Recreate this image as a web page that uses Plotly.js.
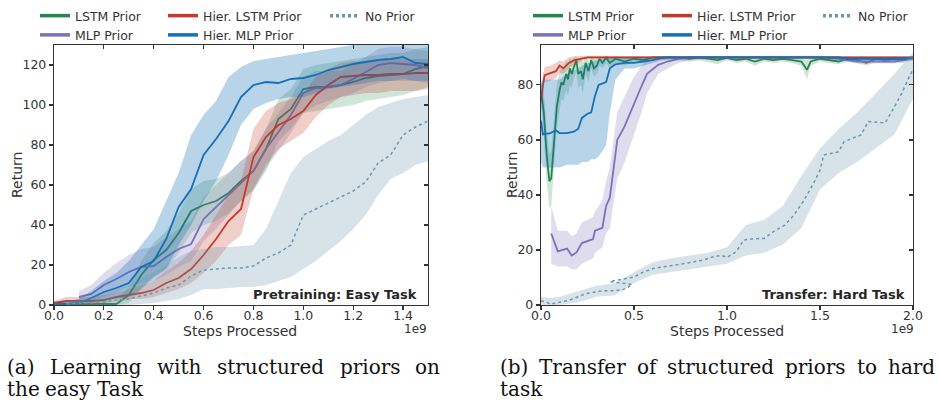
<!DOCTYPE html>
<html>
<head>
<meta charset="utf-8">
<script src="https://cdn.plot.ly/plotly-3.0.1.min.js"></script>
<style>html,body{margin:0;padding:0;background:#fff;}#chart{width:938px;height:404px;}</style>
</head>
<body>
<div id="chart"></div>
<script>
// ---------- Left panel: Pretraining (easy task), x in units of 1e9 steps ----------
const easySteps = [0,0.05,0.1,0.15,0.2,0.25,0.3,0.35,0.4,0.45,0.5,0.55,0.6,0.65,0.7,0.75,0.8,0.85,0.9,0.95,1.0,1.05,1.1,1.15,1.2,1.25,1.3,1.35,1.4,1.45,1.5];
const easyLstm    = [0.5,0.5,0.5,0.5,0.5,0.5,5,15,22.5,27.5,36,47,50,52,56,62,67,78,93,98,108,109,109,110,111.5,113.5,114.5,115,115.5,118,119.5];
const easyLstmLo  = [0,0,0,0,0,0,1,8,14,18,26,36,40,42,46,52,57,67,82,88,96,97,98,99,100,102,103,104,105,107,109];
const easyLstmHi  = [2,2,2,2,2,2,9,22,31,37,46,58,62,63,66,72,77,88,103,108,118,120,121,122,123,124,125,126,126,128,129];
const easyHmlp    = [0,0.5,1,3.5,6.5,8.5,11,19,22,33,49,58,75,83,92,104,110,111.5,111,113,113.5,115,117.5,119,120.5,121.5,122.5,123,124,121,120.5];
const easyHmlpLo  = [0,0,0,1,2,3,4,8,14,18,30,40,52,62,75,90,98,101,103,104,104,106,108,109,110,111,112,112,113,112,112];
const easyHmlpHi  = [1,2,3,7,12,16,22,30,38,52,66,85,95,102,114,119,122,123,124,125,126,127,128,129,130,130,130,130,130,130,130];
const easyHlstm   = [1,2,2,2,2.5,4,5,6,7.5,11,13.5,18,25,33,42,48,74,84,90,93,97,105,110,114,114.5,115,115,115.5,115.5,116,116];
const easyHlstmLo = [0,0,0,0,1,2,3,3,4,6,8,11,16,22,30,35,58,70,78,82,86,94,100,104,105,106,106,107,107,107,108];
const easyHlstmHi = [2,4,4,4,5,6,8,10,12,17,21,27,35,45,55,62,88,97,101,103,106,114,118,121,122,122,122,123,123,123,123];
const easyMlpSteps = [0.1,0.15,0.2,0.25,0.3,0.35,0.4,0.45,0.5,0.55,0.6,0.65,0.7,0.75,0.8,0.85,0.9,0.95,1.0,1.05,1.1,1.15,1.2,1.25,1.3,1.35,1.4,1.45,1.5];
const easyMlp     = [4,5.5,10,13,16.5,19,19.5,24,28,30.5,43,49,55,61,67,78,86.5,95,106,108.5,109,110,113,116.7,120,121,120.5,120,118.5];
const easyMlpLo   = [1,2,4,6,9,11,12,15,19,22,32,38,45,52,58,68,77,86,96,100,102,104,106,109,111,112,112,112,111];
const easyMlpHi   = [7,10,16,21,25,28,29,34,38,42,54,60,66,72,77,88,96,104,114,117,117,117,120,124,128,129,129,128,127];
const easyNoSteps = [0.05,0.1,0.15,0.2,0.25,0.3,0.35,0.4,0.45,0.5,0.55,0.6,0.65,0.7,0.75,0.8,0.85,0.9,0.95,1.0,1.05,1.1,1.15,1.2,1.25,1.3,1.35,1.4,1.45,1.5];
const easyNo      = [0.5,1,1,1.5,2.5,3,4.5,6,8.5,10,14.5,17.5,18,18.5,18.5,19.5,23.5,26,30,45,48,51,54,57,61.5,71,75,85,89,92];
const easyNoLo    = [0,0,0,0,0,0,0.5,1,2,3,5,8,8,8.5,9,9,10,12,14,18,22,27,32,38,45,55,63,66,70,72];
const easyNoHi    = [2,3,4,6,8,10,13,16,20,24,27,28,29,29,29.5,30,38,52,66,74,78,82,85,90,95,99,101,103,104,105];

// ---------- Right panel: Transfer (hard task) ----------
const hardLstmSteps = [0,0.015,0.03,0.045,0.055,0.065,0.075,0.085,0.1,0.11,0.12,0.135,0.145,0.155,0.165,0.18,0.19,0.2,0.215,0.225,0.24,0.255,0.27,0.285,0.3,0.315,0.33,0.35,0.37,0.4,0.45,0.5,0.55,0.6,0.7,0.8,0.85,0.95,1.0,1.05,1.1,1.15,1.2,1.25,1.3,1.35,1.4,1.43,1.45,1.5,1.55,1.6,1.65,1.7,1.75,1.8,1.85,1.9,1.95];
const hardLstm   = [78,70,55,45,46,55,63,72,78,81,80,84,82,86,84,87.5,89,84,85,82,88,85,89,86,87,89.5,88,90,88,89.5,88.5,89.5,89,90,90,89.5,90,89,89.8,89,89.5,88.5,89.5,89,89.5,89,88.5,85.5,88.5,89.5,89,88.5,89.5,89,88,89.5,89,89.5,89];
const hardLstmLo = [74,62,45,35,36,45,55,64,71,75,74,78,76,80,79,83,85,79,80,77,84,81,86,83,84,87,86,88,86,88,87,88.5,88,89,89,88.5,89,87.5,89,88,88.5,87,88.5,88,88.5,88,87,82,87,88.5,88,87.5,88.5,88,87,88.5,88,88.5,88];
const hardLstmHi = [82,78,64,55,56,65,71,80,85,87,86,89,88,90,89,90,90,89,89.5,88,90,89,90,89.5,89.5,90,90,90.3,90,90.3,90,90.3,90,90.5,90.5,90.3,90.5,90,90.5,90,90.3,90,90.3,90,90.3,90,90,89,90,90.3,90,90,90.3,90,89.5,90.3,90,90.3,90];
const hardMlpSteps = [0.055,0.09,0.14,0.165,0.19,0.22,0.28,0.29,0.33,0.35,0.37,0.38,0.39,0.41,0.45,0.48,0.5,0.54,0.57,0.63,0.68,0.74,0.8,1.0,1.5,1.6,1.7,1.8,1.9,2.0];
const hardMlp    = [26,19.5,20.5,18,19,22.5,24,27,28,36,39,44,49,60,65,70,73,79.5,84,87.3,88.5,89.5,90,90,90,89.5,88.5,88.5,88.5,89.5];
const hardMlpLo  = [15,14,14,13,13,15,17,19,21,26,28,32,37,46,52,58,62,70,77,84,86,88,89,89.3,89.3,88.8,87.8,87.8,87.8,88.8];
const hardMlpHi  = [36,27,27,25,26,30,32,34,38,45,50,55,60,70,76,80,83,87,89,90,90.5,90.5,90.5,90.6,90.6,90.2,89.2,89.2,89.2,90.2];
const hardHlstmSteps = [0,0.01,0.02,0.05,0.08,0.1,0.12,0.15,0.18,0.25,0.5,1.0,1.5,2.0];
const hardHlstm   = [74,80,83.5,84.2,85,87,86,88,89,90,90,90,90,90];
const hardHlstmLo = [70,77,81,81.5,82.5,84.5,84,86,87.5,89.3,89.5,89.5,89.5,89.5];
const hardHlstmHi = [78,84,86.5,87,88,89,88.5,90,90.5,90.6,90.5,90.5,90.5,90.5];
const hardHmlpSteps = [0,0.01,0.05,0.08,0.1,0.14,0.175,0.2,0.22,0.25,0.27,0.29,0.31,0.35,0.37,0.4,0.45,0.5,0.55,0.6,0.65,0.7,1.0,1.6,1.65,1.8,1.95,2.0];
const hardHmlp    = [67,62,62.5,63.5,62.5,62.5,63,64,68,69.5,70,76,80,81,86,87.5,88,88,88.5,89,89.8,90,90,90,89.5,89.5,89.5,90];
const hardHmlpLo  = [52,50,50,50,50,51,51,51,52,52,53,53,54,58,70,82,86,86,87,88,89,89.5,89.5,89.5,89,89,89,89.5];
const hardHmlpHi  = [80,82,82,82,82,84,85,86,87,88,88,89,89,89.5,90,90,90,90,90,90,90.3,90.4,90.4,90.4,90,90,90,90.4];
const hardNoSteps = [0,0.023,0.05,0.1,0.155,0.2,0.245,0.3,0.335,0.4,0.44,0.47,0.49,0.37,0.5,0.55,0.605,0.65,0.695,0.785,0.875,0.93,0.97,1.0,1.05,1.09,1.145,1.2,1.25,1.31,1.36,1.41,1.47,1.5,1.52,1.6,1.63,1.72,1.76,1.85,1.9,1.94,1.98,2.0];
const hardNo      = [1.5,1.2,0.3,1,1.8,3,4.2,4.8,5.2,5.2,5.6,6.5,7.5,8.5,10.2,12,13.3,13.8,14.2,15.2,16.4,17.6,18,17.3,19.4,23.6,24.1,24.2,26.7,29,32.7,37.6,44.8,49,54.5,55.7,59.4,61.8,66.7,66.2,72,77,83,85.5];
const hardNoBandSteps = [0,0.05,0.1,0.2,0.3,0.4,0.5,0.6,0.7,0.8,0.9,1.0,1.1,1.2,1.3,1.4,1.5,1.6,1.7,1.8,1.9,2.0];
const hardNoLo    = [0,0,0,1,3,3.5,8,11,12,13,14,15,18,19,22,28,42,48,52,57,62,75];
const hardNoHi    = [3,2.5,3,5,7,8,12,15.5,17,18,19,21,29,31,36,47,57,64,70,77,84,92];

// ---------- labels / ticks ----------
const seriesNames = ['LSTM Prior','MLP Prior','Hier. LSTM Prior','Hier. MLP Prior','No Prior'];
const easyXTicks = [0,0.2,0.4,0.6,0.8,1.0,1.2,1.4];
const easyXTickText = ['0.0','0.2','0.4','0.6','0.8','1.0','1.2','1.4'];
const easyYTicks = [0,20,40,60,80,100,120];
const hardXTicks = [0,0.5,1.0,1.5,2.0];
const hardXTickText = ['0.0','0.5','1.0','1.5','2.0'];
const hardYTicks = [0,20,40,60,80];
const xTitle = 'Steps Processed';
const yTitle = 'Return';
const panelTags = ['Pretraining: Easy Task','Transfer: Hard Task'];
const captionA = [['(a)','Learning','with','structured','priors','on'],['the','easy','Task']];
const captionB = [['(b)','Transfer','of','structured','priors','to','hard'],['task']];

// ---------- styling ----------
const colors = ['#23874a','#7a73b8','#c23b2a','#1570b7','#6c97ae'];
const bandAlpha = [0.22,0.25,0.25,0.3,0.27];
const W = 938, H = 404;
const FONT = 'DejaVu Sans';
const px = v => v / W;
const py = v => 1 - v / H;

function rgba(hex, a) {
  const n = parseInt(hex.slice(1), 16);
  return 'rgba(' + (n >> 16 & 255) + ',' + (n >> 8 & 255) + ',' + (n & 255) + ',' + a + ')';
}
function band(x, lo, hi, i, xa, ya) {
  return {x: x.concat(x.slice().reverse()), y: hi.concat(lo.slice().reverse()),
    xaxis: xa, yaxis: ya, type: 'scatter', mode: 'lines', fill: 'toself',
    fillcolor: rgba(colors[i], bandAlpha[i]), line: {width: 0, color: 'rgba(0,0,0,0)'},
    hoverinfo: 'skip', showlegend: false};
}
function line(x, y, i, xa, ya) {
  return {x: x, y: y, xaxis: xa, yaxis: ya, type: 'scatter', mode: 'lines', name: seriesNames[i],
    line: i === 4 ? {color: colors[i], width: 1.5, dash: '3px,3px'} : {color: colors[i], width: 1.8},
    showlegend: false};
}

const traces = [];
const easy = [
  [easySteps, easyLstm, easyLstmLo, easyLstmHi, easySteps],
  [easyMlpSteps, easyMlp, easyMlpLo, easyMlpHi, easyMlpSteps],
  [easySteps, easyHlstm, easyHlstmLo, easyHlstmHi, easySteps],
  [easySteps, easyHmlp, easyHmlpLo, easyHmlpHi, easySteps],
  [easyNoSteps, easyNo, easyNoLo, easyNoHi, easyNoSteps]
];
const hard = [
  [hardLstmSteps, hardLstm, hardLstmLo, hardLstmHi, hardLstmSteps],
  [hardMlpSteps, hardMlp, hardMlpLo, hardMlpHi, hardMlpSteps],
  [hardHlstmSteps, hardHlstm, hardHlstmLo, hardHlstmHi, hardHlstmSteps],
  [hardHmlpSteps, hardHmlp, hardHmlpLo, hardHmlpHi, hardHmlpSteps],
  [hardNoSteps, hardNo, hardNoLo, hardNoHi, hardNoBandSteps]
];
easy.forEach((s, i) => { traces.push(band(s[4], s[2], s[3], i, 'x', 'y')); traces.push(line(s[0], s[1], i, 'x', 'y')); });
hard.forEach((s, i) => { traces.push(band(s[4], s[2], s[3], i, 'x2', 'y2')); traces.push(line(s[0], s[1], i, 'x2', 'y2')); });

// legend-only entries (three columns per panel, like the original)
const legendCols = [[0,1],[2,3],[4]];
const legendIds = [['legend','legend2','legend3'],['legend4','legend5','legend6']];
[0,1].forEach(p => {
  legendCols.forEach((col, c) => {
    col.forEach(i => {
      traces.push({x: [null], y: [null], xaxis: p ? 'x2' : 'x', yaxis: p ? 'y2' : 'y', type: 'scatter', mode: 'lines',
        name: seriesNames[i], legend: legendIds[p][c], hoverinfo: 'skip',
        line: i === 4 ? {color: colors[i], width: 3.5, dash: '3px,3px'} : {color: colors[i], width: 3.5}});
    });
  });
});
// carriers for the inside-ticks mirror axes
traces.push({x: [null], y: [null], xaxis: 'x3', yaxis: 'y3', type: 'scatter', mode: 'lines', showlegend: false, hoverinfo: 'skip'});
traces.push({x: [null], y: [null], xaxis: 'x4', yaxis: 'y4', type: 'scatter', mode: 'lines', showlegend: false, hoverinfo: 'skip'});

const tickFont = {family: FONT, size: 12.5, color: '#333'};
const titleFont = {family: FONT, size: 14, color: '#333'};
const yDomain = [1 - 305 / H, 1 - 45 / H];
function baseAxis(extra) {
  return Object.assign({showline: true, linecolor: '#333', linewidth: 1.2, mirror: true, ticks: 'outside',
    ticklen: 4, tickwidth: 1.2, tickcolor: '#333', showgrid: false, zeroline: false, tickfont: tickFont,
    automargin: false, fixedrange: true}, extra);
}
function mirrorAxis(extra) {
  return Object.assign({showline: false, ticks: 'inside', ticklen: 4, tickwidth: 1.2, tickcolor: '#333',
    showticklabels: false, showgrid: false, zeroline: false, automargin: false, fixedrange: true}, extra);
}

function legendAt(textX, textY) {
  return {x: px(textX - 40), y: py(textY), xanchor: 'left', yanchor: 'top', orientation: 'v',
    bgcolor: 'rgba(0,0,0,0)', borderwidth: 0, font: {family: FONT, size: 12.5, color: '#333'},
    tracegroupgap: 0, itemwidth: 30};
}

function note(text, x, y, xanchor, font, extra) {
  return Object.assign({text: text, x: px(x), y: py(y), xref: 'paper', yref: 'paper', showarrow: false,
    xanchor: xanchor, yanchor: 'middle', font: font}, extra || {});
}
const annotations = [
  note(xTitle, 240, 331, 'center', titleFont),
  note(xTitle, 727, 331, 'center', titleFont),
  note(yTitle, 17, 175, 'center', titleFont, {textangle: -90}),
  note(yTitle, 512, 175, 'center', titleFont, {textangle: -90}),
  note('1e9', 415, 329, 'center', {family: FONT, size: 12, color: '#333'}),
  note('1e9', 902, 329, 'center', {family: FONT, size: 12, color: '#333'}),
  note('<b>' + panelTags[0] + '</b>', 419, 294, 'right', {family: FONT, size: 13, color: '#262626'}),
  note('<b>' + panelTags[1] + '</b>', 907, 294, 'right', {family: FONT, size: 13, color: '#262626'})
];
// caption words (justified like the LaTeX caption)
const capFont = {family: 'DejaVu Serif', size: 20, color: '#111'};
const capAPos = [[6, 49, 156, 216, 339, 414], [6, 44, 96]];
const capBPos = [[499, 538, 636, 666, 784, 856, 887], [499]];
const capLineY = [367, 389];
function addCaption(words, pos) {
  words.forEach((ln, r) => ln.forEach((w, k) => {
    annotations.push(note(w, pos[r][k], capLineY[r], 'left', capFont, {borderpad: 0}));
  }));
}
addCaption(captionA, capAPos);
addCaption(captionB, capBPos);

const layout = {
  width: W, height: H, margin: {l: 0, r: 0, t: 0, b: 0, pad: 0},
  paper_bgcolor: '#fff', plot_bgcolor: '#fff',
  font: {family: FONT, color: '#333'},
  xaxis: baseAxis({domain: [px(54), px(428)], range: [0, 1.5], anchor: 'y', tickvals: easyXTicks, ticktext: easyXTickText, ticklabelstandoff: -5}),
  yaxis: baseAxis({domain: yDomain, range: [0, 130], anchor: 'x', tickvals: easyYTicks}),
  xaxis2: baseAxis({domain: [px(541), px(913)], range: [0, 2], anchor: 'y2', tickvals: hardXTicks, ticktext: hardXTickText, ticklabelstandoff: -5}),
  yaxis2: baseAxis({domain: yDomain, range: [0, 94.5], anchor: 'x2', tickvals: hardYTicks}),
  xaxis3: mirrorAxis({overlaying: 'x', anchor: 'y', side: 'top', range: [0, 1.5], tickvals: easyXTicks}),
  yaxis3: mirrorAxis({overlaying: 'y', anchor: 'x', side: 'right', range: [0, 130], tickvals: easyYTicks}),
  xaxis4: mirrorAxis({overlaying: 'x2', anchor: 'y2', side: 'top', range: [0, 2], tickvals: hardXTicks}),
  yaxis4: mirrorAxis({overlaying: 'y2', anchor: 'x2', side: 'right', range: [0, 94.5], tickvals: hardYTicks}),
  legend: legendAt(75, 1), legend2: legendAt(203, 1), legend3: legendAt(365, 1),
  legend4: legendAt(568, 1), legend5: legendAt(697, 1), legend6: legendAt(858, 1),
  annotations: annotations,
  showlegend: true
};

Plotly.newPlot('chart', traces, layout, {displayModeBar: false, staticPlot: true});
</script>
</body>
</html>
